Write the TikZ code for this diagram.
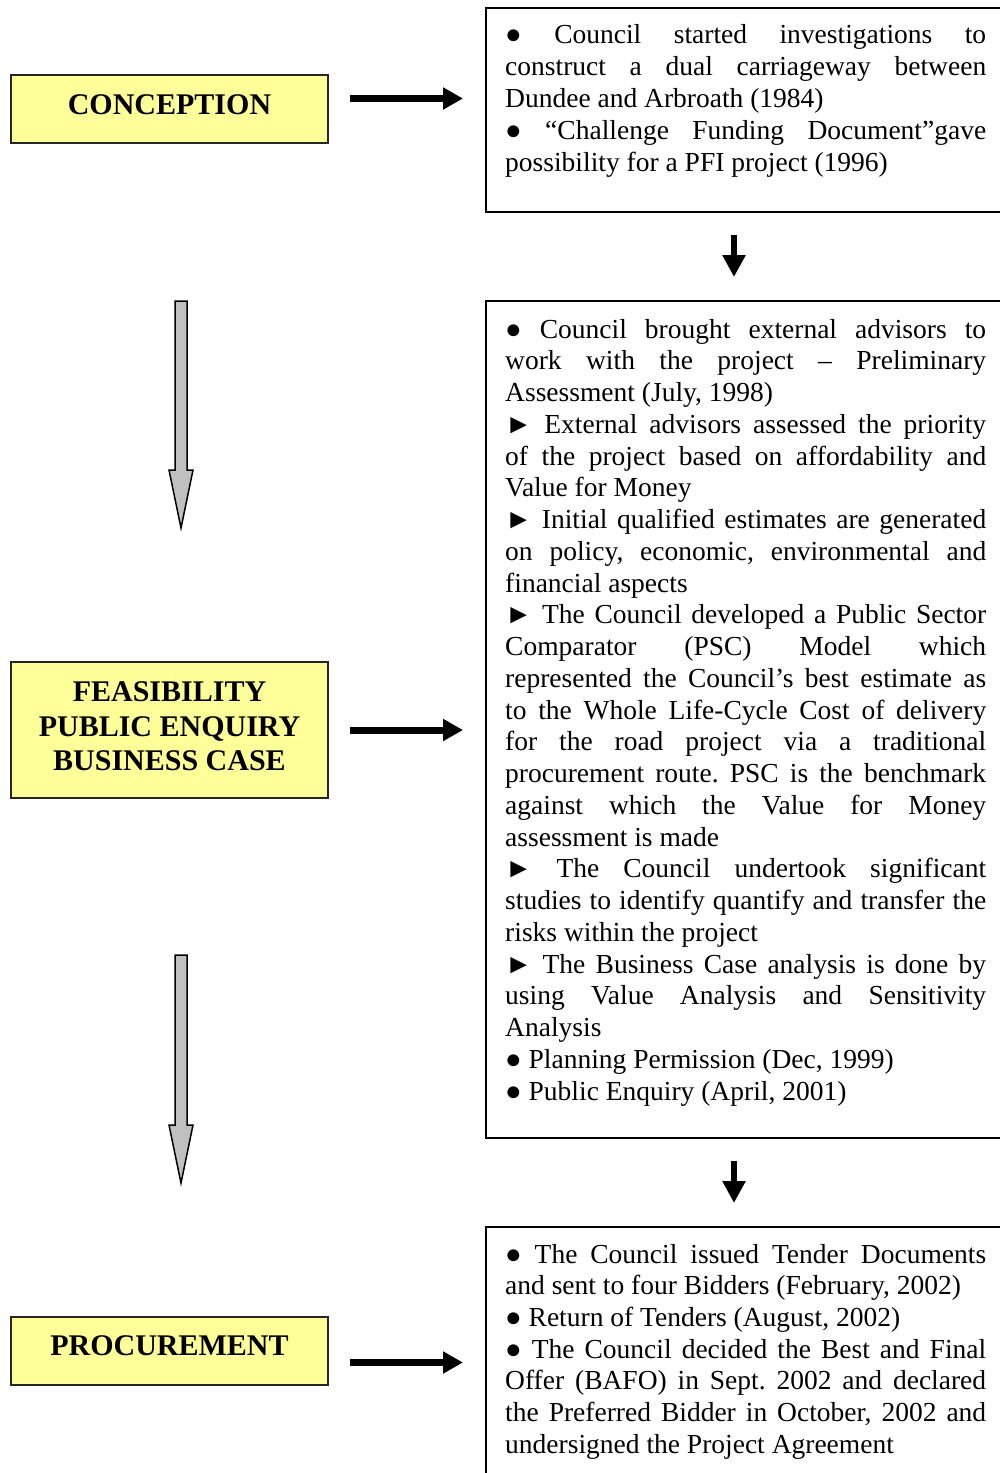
\documentclass[tikz,border=0pt]{standalone}
\usepackage{fontspec}
\setmainfont{Liberation Serif}
\usetikzlibrary{arrows.meta}
\definecolor{paleyellow}{HTML}{FFFF99}
\definecolor{arrowgray}{HTML}{C0C0C0}
\newcommand{\J}[1]{\makebox[481pt][s]{#1}}
\frenchspacing
\begin{document}
\begin{tikzpicture}[x=1pt,y=-1pt,
  stagebox/.style={draw=black!85, line width=1.5pt, fill=paleyellow, minimum width=317pt, inner sep=0pt},
  infobox/.style={draw=black, line width=2pt, minimum width=540pt, inner sep=0pt, anchor=north west},
  stagetext/.style={font=\fontsize{30}{34.5}\selectfont\bfseries, anchor=base, inner sep=0pt},
  bodyline/.style={font=\fontsize{27.5}{32}\selectfont\frenchspacing, anchor=base west, inner sep=0pt},
  flowarrow/.style={line width=7pt, -{Triangle[width=21pt,length=20pt]}},
  droparrow/.style={line width=6.5pt, -{Triangle[width=22pt,length=22pt]}},
  hollowarrow/.style={draw=black, line width=1.5pt, fill=arrowgray, line join=miter}
]
\useasboundingbox (0,0) rectangle (1000,1473);

% left stage boxes
\node[stagebox, minimum height=68pt] (conc) at (169.5,109) {};
\node[stagetext] (conct) at (169.5,114) {CONCEPTION};
\node[stagebox, minimum height=136pt] (feas) at (169.5,730) {};
\node[stagetext] (feast1) at (169.5,701) {FEASIBILITY};
\node[stagetext] (feast2) at (169.5,736) {PUBLIC ENQUIRY};
\node[stagetext] (feast3) at (169.5,770) {BUSINESS CASE};
\node[stagebox, minimum height=68pt] (proc) at (169.5,1351) {};
\node[stagetext] (proct) at (169.5,1355) {PROCUREMENT};

% right info boxes
\node[infobox, minimum height=204pt] (box1) at (485,7) {};
\node[infobox, minimum height=837pt] (box2) at (485,300) {};
\node[infobox, minimum height=280pt] (box3) at (485,1226) {};

% box 1 text
\node[bodyline] (b1a) at (505,43) {\J{● Council started investigations to}};
\node[bodyline] (b1b) at (505,75) {\J{construct a dual carriageway between}};
\node[bodyline] (b1c) at (505,107) {Dundee and Arbroath (1984)};
\node[bodyline] (b1d) at (505,139) {\J{● “Challenge Funding Document”gave}};
\node[bodyline] (b1e) at (505,171) {possibility for a PFI project (1996)};

% box 2 text
\node[bodyline] (b2a) at (505,338.0) {\J{● Council brought external advisors to}};
\node[bodyline] (b2b) at (505,369.75) {\J{work with the project – Preliminary}};
\node[bodyline] (b2c) at (505,401.5) {Assessment (July, 1998)};
\node[bodyline] (b2d) at (505,433.25) {\J{► External advisors assessed the priority}};
\node[bodyline] (b2e) at (505,465.0) {\J{of the project based on affordability and}};
\node[bodyline] (b2f) at (505,496.75) {Value for Money};
\node[bodyline] (b2g) at (505,528.5) {\J{► Initial qualified estimates are generated}};
\node[bodyline] (b2h) at (505,560.25) {\J{on policy, economic, environmental and}};
\node[bodyline] (b2i) at (505,592.0) {financial aspects};
\node[bodyline] (b2j) at (505,623.75) {\J{► The Council developed a Public Sector}};
\node[bodyline] (b2k) at (505,655.5) {\J{Comparator (PSC) Model which}};
\node[bodyline] (b2l) at (505,687.25) {\J{represented the Council’s best estimate as}};
\node[bodyline] (b2m) at (505,719.0) {\J{to the Whole Life-Cycle Cost of delivery}};
\node[bodyline] (b2n) at (505,750.75) {\J{for the road project via a traditional}};
\node[bodyline] (b2o) at (505,782.5) {\J{procurement route. PSC is the benchmark}};
\node[bodyline] (b2p) at (505,814.25) {\J{against which the Value for Money}};
\node[bodyline] (b2q) at (505,846.0) {assessment is made};
\node[bodyline] (b2r) at (505,877.75) {\J{► The Council undertook significant}};
\node[bodyline] (b2s) at (505,909.5) {\J{studies to identify quantify and transfer the}};
\node[bodyline] (b2t) at (505,941.25) {risks within the project};
\node[bodyline] (b2u) at (505,973.0) {\J{► The Business Case analysis is done by}};
\node[bodyline] (b2v) at (505,1004.75) {\J{using Value Analysis and Sensitivity}};
\node[bodyline] (b2w) at (505,1036.5) {Analysis};
\node[bodyline] (b2x) at (505,1068.25) {● Planning Permission (Dec, 1999)};
\node[bodyline] (b2y) at (505,1100.0) {● Public Enquiry (April, 2001)};

% box 3 text
\node[bodyline] (b3a) at (505,1263.0) {\J{● The Council issued Tender Documents}};
\node[bodyline] (b3b) at (505,1294.67) {and sent to four Bidders (February, 2002)};
\node[bodyline] (b3c) at (505,1326.33) {● Return of Tenders (August, 2002)};
\node[bodyline] (b3d) at (505,1358.0) {\J{● The Council decided the Best and Final}};
\node[bodyline] (b3e) at (505,1389.67) {\J{Offer (BAFO) in Sept. 2002 and declared}};
\node[bodyline] (b3f) at (505,1421.33) {\J{the Preferred Bidder in October, 2002 and}};
\node[bodyline] (b3g) at (505,1453.0) {undersigned the Project Agreement};

% horizontal arrows stage -> info
\coordinate (a1s) at (350,98.5);  \coordinate (a1e) at (463,98.5);
\coordinate (a2s) at (350,730);   \coordinate (a2e) at (463,730);
\coordinate (a3s) at (350,1362.5);\coordinate (a3e) at (463,1362.5);
\draw[flowarrow] (a1s) -- (a1e);
\draw[flowarrow] (a2s) -- (a2e);
\draw[flowarrow] (a3s) -- (a3e);

% small vertical arrows between info boxes
\coordinate (ax) at (734,0);
\draw[droparrow] ([yshift=-22pt]box1.south -| ax) -- ([yshift=23pt]box2.north -| ax);
\draw[droparrow] ([yshift=-22pt]box2.south -| ax) -- ([yshift=23pt]box3.north -| ax);

% hollow grey arrows between stages
\draw[hollowarrow] (175,301) -- (187,301) -- (187,470) -- (193,470) -- (181,528) -- (169,470) -- (175,470) -- cycle;
\draw[hollowarrow] (175,955) -- (187,955) -- (187,1125) -- (193,1125) -- (181,1183) -- (169,1125) -- (175,1125) -- cycle;
\end{tikzpicture}
\end{document}
